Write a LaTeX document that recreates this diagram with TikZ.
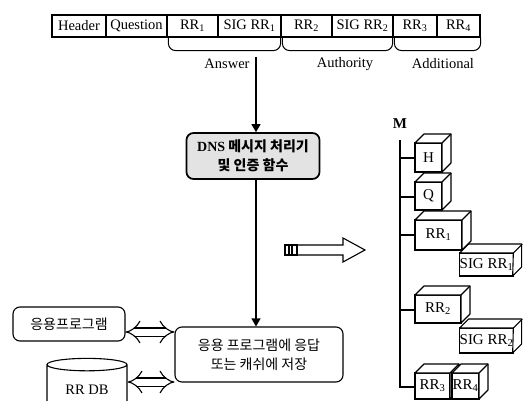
\documentclass[tikz,border=0pt]{standalone}
\usepackage{fontspec}
\setmainfont{Liberation Serif}
\newfontfamily\kr{Noto Sans CJK KR}
\usetikzlibrary{arrows.meta,positioning,shapes.geometric,calc}
\newcommand{\sub}[1]{\textsubscript{#1}}

\begin{document}
\begin{tikzpicture}[x=1pt,y=-1pt,
    cell/.style={draw,line width=1.1pt,minimum height=22pt,inner sep=0pt,font=\fontsize{14.5}{16}\selectfont},
    grp/.style={line width=1pt,rounded corners=7pt},
    lbl/.style={font=\fontsize{14.5}{16}\selectfont},
    flow/.style={line width=1.1pt,-{Triangle[length=8pt,width=9pt]}},
    both/.style={double,double distance=7pt,line width=1.1pt,{Implies}-{Implies}},
    kbox/.style={draw,line width=1.1pt,rounded corners=7pt,align=center,font=\kr\fontsize{14}{19}\selectfont},
    cube/.style={draw,fill=white,line width=1.1pt,inner sep=0pt,outer sep=0pt,font=\fontsize{15}{16}\selectfont},
    cubeface/.style={draw,fill=white,line width=1.1pt,line join=round}]
  \useasboundingbox (0,0) rectangle (528,401);
  \clip (0,0) rectangle (528,401);
  % message layout
  \foreach \n/\l/\r/\t in {hdr/52/106/Header, qst/106/167/Question, ans1/167/218/RR\sub{1}, ans2/218/281/SIG RR\sub{1},
                           auth1/281/332/RR\sub{2}, auth2/332/393/SIG RR\sub{2}, add1/393/437/RR\sub{3}, add2/437/480/RR\sub{4}}{
    \node[cell,minimum width=\r-\l] (\n) at ({(\l+\r)/2},26) {\t};
  }
  \draw[grp] ([xshift=2pt]ans1.south west) -- ++(0,13) -| ([xshift=-1pt]ans2.south east);
  \draw[grp] ([xshift=2pt]auth1.south west) -- ++(0,13) -| ([xshift=-1pt]auth2.south east);
  \draw[grp] ([xshift=2pt]add1.south west) -- ++(0,13) -| (add2.south east);
  \node[lbl] (ansl) at (227,64) {Answer};
  \node[lbl] (authl) at (345,64) {Authority};
  \node[lbl] (addl) at (443,64) {Additional};
  % processing
  \coordinate (top) at (256,57);
  \node[kbox,fill=gray!22,line width=1.7pt,font=\kr\bfseries\fontsize{14}{19}\selectfont,minimum width=133,minimum height=46] (dns) at (253,156)
    {{\rmfamily DNS} 메시지 처리기\\및 인증 함수};
  \node[kbox,minimum width=168,minimum height=55] (store) at (259,354.5) {응용 프로그램에 응답\\또는 캐쉬에 저장};
  \draw[flow] (top) -- (top |- dns.north);
  \draw[flow] (top |- dns.south) -- (top |- store.north);
  \node[kbox,minimum width=112,minimum height=34] (app) at (69,324) {응용프로그램};
  \node[draw,cylinder,shape border rotate=90,aspect=0.25,minimum width=80,minimum height=54,line width=1.1pt,lbl] (rrdb) at (87,390) {RR DB};
  \coordinate (a1) at ([yshift=-8pt]app.east);
  \coordinate (a2) at ([yshift=8pt]rrdb.east);
  \draw[both] (a1) -- (a1 -| store.west);
  \draw[both] (a2) -- (a2 -| store.west);
  % hollow arrow
  \draw[line width=1.1pt,line join=miter] (297,245) -- (343,245) -- (343,238) -- (365,250) -- (343,262) -- (343,255) -- (297,255) -- cycle;
  \draw[line width=1.1pt] (285,245) rectangle (297,255);
  \draw[line width=1.1pt] (289,245) -- (289,255) (292,245) -- (292,255);
  % stored structure
  \node[font=\bfseries\fontsize{15}{16}\selectfont] (m) at (400,124) {M};
  \coordinate (mtop) at (400,140);
  \draw[line width=1.1pt] (mtop) |- (432.5,387);
  \foreach \c in {158,197,235,310} \draw[line width=1.1pt] (400,\c) -- (416,\c);
  \foreach \n/\cx/\cy/\w/\h/\t in {mh/428.5/157.5/27/29/H, mq/428.5/196/27/28/Q, msig1/486.5/264.5/53/23/SIG RR\sub{1},
                                   mrr1/438.5/235/47/30/RR\sub{1}, msig2/486.5/340.5/53/25/SIG RR\sub{2}, mrr2/438/309/46/28/RR\sub{2},
                                   mrr3/432.5/386/35/26/RR\sub{3}, mrr4/465.5/386/27/26/RR\sub{4}}{
    \node[cube,minimum width=\w,minimum height=\h] (\n) at (\cx,\cy) {\t};
    \draw[cubeface] (\n.north west) -- ++(9,-9) -- ++(\w,0) -- ++(0,\h) -- ++(-9,9) -- (\n.north east) -- cycle;
    \draw[line width=1.1pt] (\n.north east) -- ++(9,-9);
  }
\end{tikzpicture}
\end{document}
